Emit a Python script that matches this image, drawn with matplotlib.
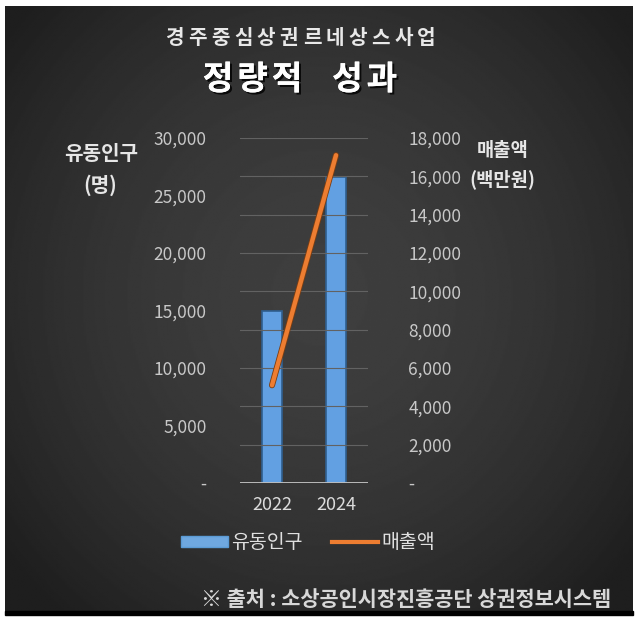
import numpy as np
import matplotlib
matplotlib.use('Agg')
import matplotlib.pyplot as plt
import matplotlib.patheffects as pe
from matplotlib.patches import Rectangle
from matplotlib.lines import Line2D
from matplotlib.ticker import FuncFormatter, MultipleLocator

plt.rcParams['font.family'] = ['Noto Sans CJK KR', 'DejaVu Sans']

# 데이터
years = ['2022', '2024']
population = [15000, 26600]      # 유동인구 (명)
sales = [5100, 17100]            # 매출액 (백만원)

title_top = '경주중심상권르네상스사업'
title_main = '정량적 성과'
left_label = ['유동인구', '(명)']
right_label = ['매출액', '(백만원)']
source = '※ 출처 : 소상공인시장진흥공단 상권정보시스템'

W, H = 640, 623
fig = plt.figure(figsize=(W / 100, H / 100), dpi=100)
fig.patch.set_facecolor('white')

# 어두운 배경 패널 (방사형 그라데이션)
bg = fig.add_axes([0, 0, 1, 1], zorder=-10)
bg.set_xlim(0, W)
bg.set_ylim(H, 0)
bg.axis('off')
yy, xx = np.mgrid[0:400, 0:400]
r = np.sqrt(((xx - 200) / 210) ** 2 + ((yy - 190) / 230) ** 2)
shade = np.clip(0.245 - 0.09 * r ** 1.8, 0.12, 0.3)
bg.imshow(shade, cmap='gray', vmin=0, vmax=1, extent=[5, 633, 612, 6],
          aspect='auto', interpolation='bilinear')
bg.add_patch(Rectangle((5, 611), 628, 4, color='black'))

def fx(px):
    return px / W

def fy(py):
    return 1 - py / H

def spaced_text(s, x0, pitch, y, space=1.0, **kw):
    # 글자 간격이 넓은 제목: 한 글자씩 배치
    xpos = x0
    for ch in s:
        if ch == ' ':
            xpos += pitch * space
            continue
        fig.text(fx(xpos), fy(y), ch, ha='center', va='center', **kw)
        xpos += pitch

# 제목
spaced_text(title_top, 174.5, 22.9, 38, fontsize=14.5, fontweight='bold', color='#e8e8e8')
spaced_text(title_main, 218, 34.5, 80, space=0.75, fontsize=24, fontweight='bold',
            color='white',
            path_effects=[pe.withSimplePatchShadow(offset=(1.5, -1.5),
                                                   shadow_rgbFace='black', alpha=0.8),
                          pe.Normal()])

# 축 제목
fig.text(fx(101), fy(153), left_label[0], ha='center', va='center', fontsize=14.5,
         fontweight='bold', color='#e6e6e6')
fig.text(fx(100), fy(185), left_label[1], ha='center', va='center', fontsize=14.5,
         fontweight='bold', color='#e6e6e6')
fig.text(fx(503), fy(150), right_label[0], ha='center', va='center', fontsize=13.5,
         fontweight='bold', color='#e6e6e6')
fig.text(fx(502), fy(179), right_label[1], ha='center', va='center', fontsize=13.5,
         fontweight='bold', color='#e6e6e6')

# 차트
ax = fig.add_axes([fx(240), fy(483), fx(128), 345 / H])
ax.set_facecolor('none')
x = np.arange(len(years))
ax.bar(x, population, width=0.32, color='#62a0e2', edgecolor='#2f5f8f',
       linewidth=1.2, zorder=2)
ax.set_xlim(-0.5, 1.5)
ax.set_ylim(0, 30000)
ax.yaxis.set_major_locator(MultipleLocator(5000))

ax2 = ax.twinx()
ax2.plot(x, sales, color='#ed7d31', linewidth=3.2, solid_capstyle='round', zorder=3,
         path_effects=[pe.Stroke(linewidth=4.4, foreground='#7a3d12'), pe.Normal()])
ax2.set_ylim(0, 18000)
ax2.yaxis.set_major_locator(MultipleLocator(2000))
for v in range(2000, 18001, 2000):
    ax2.axhline(v, color='#626262', linewidth=0.8, zorder=0)
ax2.axhline(0, color='#c4c4c4', linewidth=1.3, zorder=4)

fmt = FuncFormatter(lambda v, p: '-' if v == 0 else f'{v:,.0f}')
for a in (ax, ax2):
    a.yaxis.set_major_formatter(fmt)
    for s in a.spines.values():
        s.set_visible(False)
    a.tick_params(axis='y', length=0, labelsize=12.5, labelcolor='#c8c8c8')
ax.tick_params(axis='y', pad=24)
ax2.tick_params(axis='y', pad=29)
ax.set_xticks(x)
ax.set_xticklabels(years)
ax.tick_params(axis='x', length=0, labelsize=13, labelcolor='#dcdcdc', pad=9)

# 범례
handles = [Rectangle((0, 0), 1, 1, facecolor='#6fa8e0', edgecolor='#5b9bd5'),
           Line2D([0], [0], color='#ed7d31', linewidth=3)]
leg = fig.legend(handles, ['유동인구', '매출액'], loc='center',
                 bbox_to_anchor=(fx(308), fy(543)), ncol=2, frameon=False,
                 fontsize=14, handlelength=2.4, handleheight=0.5,
                 handletextpad=0.15, columnspacing=1.5)
for t in leg.get_texts():
    t.set_color('#e0e0e0')

# 출처
fig.text(fx(611), fy(599), source, ha='right', va='center', fontsize=15,
         fontweight='bold', color='#d8d8d8')

fig.savefig('out.png', dpi=100, facecolor='white')
